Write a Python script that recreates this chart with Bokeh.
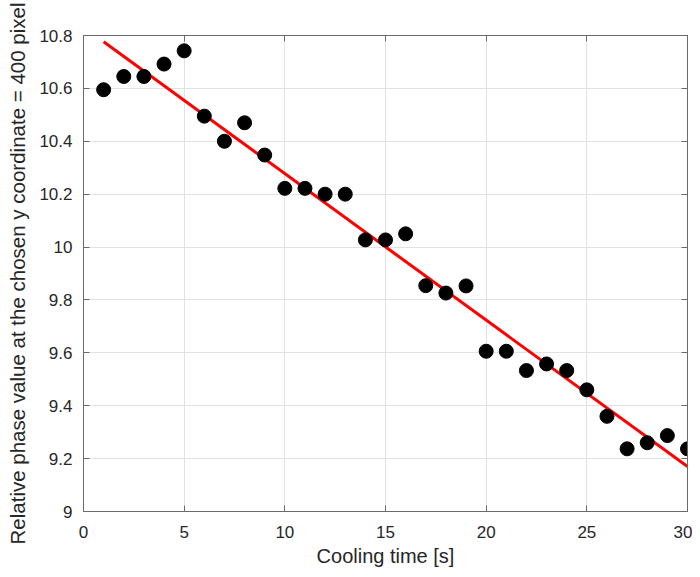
import numpy as np
from bokeh.plotting import figure
from bokeh.models import LinearAxis, FixedTicker, Range1d
from bokeh.embed import file_html
from bokeh.resources import INLINE

# Data
cooling_time = [1, 2, 3, 4, 5, 6, 7, 8, 9, 10, 11, 12, 13, 14, 15,
                16, 17, 18, 19, 20, 21, 22, 23, 24, 25, 26, 27, 28, 29, 30]
phase_value = [10.595, 10.645, 10.645, 10.692, 10.742, 10.495, 10.40, 10.47, 10.348, 10.222,
               10.222, 10.20, 10.20, 10.027, 10.027, 10.05, 9.854, 9.826, 9.853, 9.606,
               9.606, 9.533, 9.558, 9.533, 9.46, 9.36, 9.237, 9.26, 9.287, 9.237]
x_ticks = [0, 5, 10, 15, 20, 25, 30]
y_ticks = [9.0, 9.2, 9.4, 9.6, 9.8, 10.0, 10.2, 10.4, 10.6, 10.8]
y_tick_labels = ["9", "9.2", "9.4", "9.6", "9.8", "10", "10.2", "10.4", "10.6", "10.8"]

# Linear fit
coef = np.polyfit(cooling_time, phase_value, 1)
fit_x = [cooling_time[0], cooling_time[-1]]
fit_y = list(np.polyval(coef, fit_x))

FONT = "Liberation Sans"
TXT = "#262626"
AX = "#6a6a6a"

p = figure(frame_width=604, frame_height=476,
           min_border_left=83, min_border_right=5, min_border_top=35, min_border_bottom=58,
           x_range=Range1d(0, 30), y_range=Range1d(9, 10.8),
           output_backend="svg", toolbar_location=None)
p.outline_line_color = AX
p.outline_line_width = 1

p.line(fit_x, fit_y, line_color="#ff0000", line_width=3)
p.scatter(cooling_time, phase_value, size=14, fill_color="black", line_color="black")

xt = FixedTicker(ticks=x_ticks)
yt = FixedTicker(ticks=y_ticks)
p.xaxis.ticker = xt
p.yaxis.ticker = yt
p.yaxis.major_label_overrides = {t: l for t, l in zip(y_ticks, y_tick_labels)}

for ax in (p.xaxis[0], p.yaxis[0]):
    ax.axis_line_color = AX
    ax.major_tick_line_color = AX
    ax.major_tick_in = 6
    ax.major_tick_out = 0
    ax.minor_tick_line_color = None
    ax.major_label_text_font = FONT
    ax.major_label_text_font_size = "17px"
    ax.major_label_text_color = TXT
    ax.axis_label_text_font = FONT
    ax.axis_label_text_font_style = "normal"
    ax.axis_label_text_color = TXT

p.xaxis.axis_label_text_font_size = "20px"
p.yaxis.axis_label_text_font_size = "20.5px"
p.xaxis.axis_label = "Cooling time [s]"
p.yaxis.axis_label = "Relative phase value at the chosen y coordinate = 400 pixel"
p.xaxis.major_label_standoff = 14
p.yaxis.major_label_standoff = 11
p.xaxis.axis_label_standoff = 4
p.yaxis.axis_label_standoff = 7

top = LinearAxis(ticker=FixedTicker(ticks=x_ticks), major_label_text_font_size="1px",
                 major_label_text_color=None,
                 axis_line_color=AX, major_tick_line_color=AX, major_tick_in=6, major_tick_out=0,
                 minor_tick_line_color=None, major_label_standoff=0)
right = LinearAxis(ticker=FixedTicker(ticks=y_ticks), major_label_text_font_size="1px",
                   major_label_text_color=None,
                   axis_line_color=AX, major_tick_line_color=AX, major_tick_in=6, major_tick_out=0,
                   minor_tick_line_color=None, major_label_standoff=0)
p.add_layout(top, "above")
p.add_layout(right, "right")

p.xgrid.ticker = xt
p.ygrid.ticker = yt
p.grid.grid_line_color = "#e2e2e2"
p.grid.grid_line_width = 1

open("out.html", "w").write(file_html(p, INLINE))
